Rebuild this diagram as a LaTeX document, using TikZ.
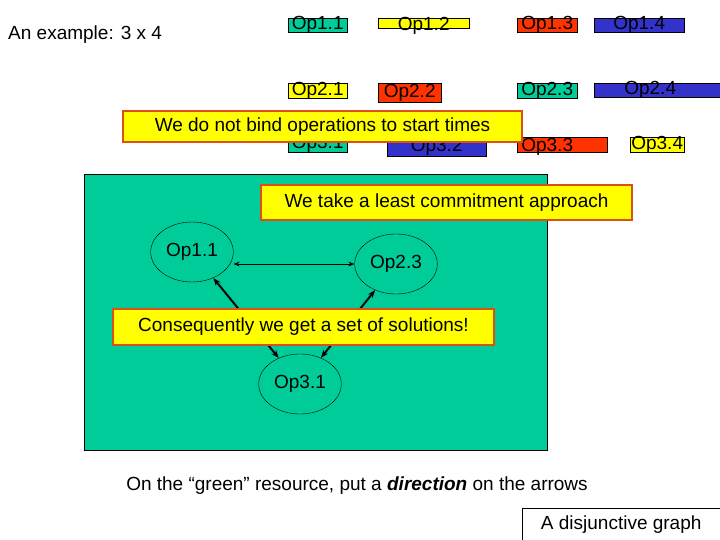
\documentclass[tikz,border=0pt]{standalone}
\usepackage{fontspec}
\setmainfont{Liberation Sans}
\usetikzlibrary{arrows.meta,shapes.geometric}
\definecolor{opg}{RGB}{0,204,153}
\definecolor{opr}{RGB}{255,51,0}
\definecolor{opb}{RGB}{51,51,204}
\definecolor{opy}{RGB}{255,255,0}
\definecolor{cbord}{RGB}{220,80,20}
\newcommand\bigf{\fontsize{19}{20}\selectfont}
\tikzset{
 op/.style={draw=black,anchor=north west,inner sep=0pt},
 lab/.style={font=\bigf,inner sep=0pt},
 call/.style={draw=cbord,line width=2.5pt,fill=opy,inner sep=3pt,font=\bigf},
 el/.style={draw=black,thin,ellipse,minimum width=72pt,minimum height=60pt,font=\bigf},
 thk/.style={line width=2pt,{Stealth[length=8pt]}-{Stealth[length=8pt]}},
}
\begin{document}
\begin{tikzpicture}[x=1pt,y=-1pt]
\useasboundingbox (0,0) rectangle (720,540);
\node[lab,anchor=west] (ex) at (8,35) {An example: 3 x 4};
% row 1
\node[op,fill=opg,minimum width=59pt,minimum height=14pt] (b11) at (288,18) {}; \node[lab] at (b11.center) {Op1.1};
\node[op,fill=opy,minimum width=91pt,minimum height=10pt] (b12) at (378,18) {}; \node[lab] at ([yshift=-3pt]b12.center) {Op1.2};
\node[op,fill=opr,minimum width=60pt,minimum height=14pt] (b13) at (517,18) {}; \node[lab] at (b13.center) {Op1.3};
\node[op,fill=opb,minimum width=90pt,minimum height=14pt] (b14) at (594,18) {}; \node[lab] at (b14.center) {Op1.4};
% row 2
\node[op,fill=opy,minimum width=59pt,minimum height=15pt] (b21) at (288,83) {}; \node[lab] at (b21.center) {Op2.1};
\node[op,fill=opr,minimum width=63pt,minimum height=19pt] (b22) at (378,83) {}; \node[lab] at (b22.center) {Op2.2};
\node[op,fill=opg,minimum width=60pt,minimum height=15pt] (b23) at (517,83) {}; \node[lab] at (b23.center) {Op2.3};
\node[op,fill=opb,minimum width=126pt,minimum height=14pt] (b24) at (594,83) {}; \node[lab] at ([xshift=-7pt]b24.center) {Op2.4};
% row 3
\node[op,fill=opg,minimum width=59pt,minimum height=17pt] (b31) at (288,135) {}; \node[lab] at (b31.center) {Op3.1};
\node[op,fill=opb,minimum width=99pt,minimum height=19pt] (b32) at (387,137) {}; \node[lab] at (b32.center) {Op3.2};
\node[op,fill=opr,minimum width=90pt,minimum height=15pt] (b33) at (517,137) {}; \node[lab] at ([xshift=-15pt,yshift=-2pt]b33.center) {Op3.3};
\node[op,fill=opy,minimum width=54pt,minimum height=15pt] (b34) at (630,137) {}; \node[lab] at (b34.center) {Op3.4};
\node[call,minimum width=399pt,minimum height=31pt] (c1) at (322.5,126.5) {We do not bind operations to start times};
% green resource
\node[draw=black,fill=opg,anchor=north west,minimum width=463pt,minimum height=276pt,inner sep=0pt] (res) at (84,174) {};
\node[el] (e11) at (192,252) {Op1.1};
\node[el] (e23) at (396,264) {Op2.3};
\node[el] (e31) at (300,384) {Op3.1};
\draw[thin,{Stealth[length=6pt]}-{Stealth[length=6pt]}] (e11.east |- 0,264) -- (e23.west |- 0,264);
\draw[thk] (e11) -- (e31);
\draw[thk] (e23) -- (e31);
\node[call,minimum width=371pt,minimum height=35pt] (c2) at (446.5,202.5) {We take a least commitment approach};
\node[call,minimum width=381pt,minimum height=36pt] (c3) at (303.5,327) {Consequently we get a set of solutions!};
\node[lab] (dir) at (357,486) {On the “green” resource, put a \textbf{\textit{direction}} on the arrows};
\node[draw=black,fill=white,anchor=north west,minimum width=198pt,minimum height=32pt,inner sep=0pt,font=\bigf] (dg) at (522,508) {A disjunctive graph};
\end{tikzpicture}
\end{document}
